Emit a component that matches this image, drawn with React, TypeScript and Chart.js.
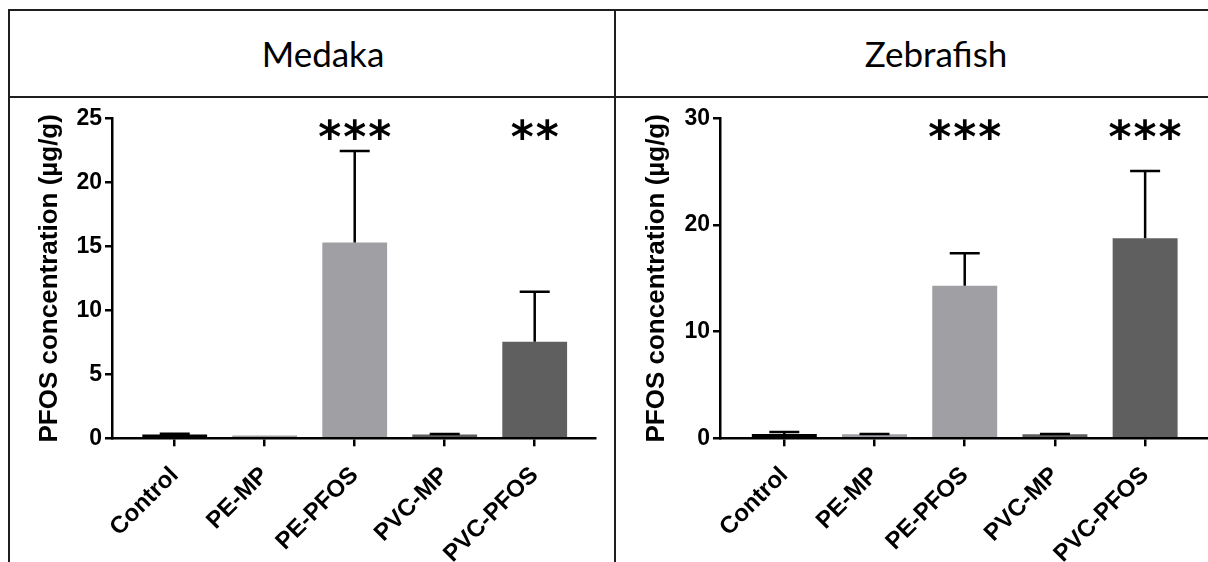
import React, { useEffect, useRef } from "react";
import { Chart, registerables } from "chart.js";

Chart.register(...registerables);

// Treatment groups shared by both species panels
const categories = ["Control", "PE-MP", "PE-PFOS", "PVC-MP", "PVC-PFOS"];
const barColors = ["#000000", "#a09fa4", "#a09fa4", "#5f5f5f", "#5f5f5f"];

// Medaka: mean PFOS concentration and upper error (µg/g)
const medakaMean = [0.3, 0.22, 15.3, 0.3, 7.55];
const medakaErr = [0.05, 0, 7.15, 0.04, 3.9];
const medakaStars = ["", "", "***", "", "**"];
const medakaTicks = [0, 5, 10, 15, 20, 25];

// Zebrafish: mean PFOS concentration and upper error (µg/g)
const zebraMean = [0.4, 0.38, 14.3, 0.38, 18.75];
const zebraErr = [0.2, 0.03, 3.05, 0.03, 6.3];
const zebraStars = ["", "", "***", "", "***"];
const zebraTicks = [0, 10, 20, 30];

const AXIS_FONT = "'Liberation Sans', Arial, Helvetica, sans-serif";
const CANVAS_H = 463;

type PanelProps = {
  left: number;
  width: number;
  axisLeft: number;
  padRight: number;
  xMin: number;
  xMax: number;
  means: number[];
  errs: number[];
  stars: string[];
  yMax: number;
  yTicks: number[];
  titlePad: number;
};

function Panel(p: PanelProps) {
  const ref = useRef<HTMLCanvasElement>(null);

  useEffect(() => {
    const canvas = ref.current;
    if (!canvas) return;

    // One-sided error bars and significance asterisks above the bars
    const errorBars = {
      id: "errorBars",
      afterDatasetsDraw(chart: any) {
        const { ctx } = chart;
        const x = chart.scales.x;
        const y = chart.scales.y;
        ctx.save();
        ctx.strokeStyle = "#000";
        ctx.lineWidth = 2.5;
        p.means.forEach((m, i) => {
          const e = p.errs[i];
          if (!e) return;
          const cx = x.getPixelForValue(i);
          const yTop = y.getPixelForValue(m);
          const yCap = y.getPixelForValue(m + e);
          ctx.beginPath();
          ctx.moveTo(cx, yTop);
          ctx.lineTo(cx, yCap);
          ctx.moveTo(cx - 15, yCap);
          ctx.lineTo(cx + 15, yCap);
          ctx.stroke();
        });
        ctx.fillStyle = "#000";
        ctx.font = "bold 44px 'DejaVu Sans'";
        ctx.textAlign = "center";
        ctx.textBaseline = "alphabetic";
        p.stars.forEach((s, i) => {
          if (!s) return;
          const cx = x.getPixelForValue(i);
          const n = s.length;
          for (let k = 0; k < n; k++) {
            ctx.fillText(s[k], cx + (k - (n - 1) / 2) * 25, chart.chartArea.top + 34);
          }
        });
        ctx.restore();
      },
    };

    const tickFont = { family: AXIS_FONT, size: 23, weight: "bold" as const };
    const axisGrid = {
      display: true,
      drawOnChartArea: false,
      drawTicks: true,
      color: "#000",
      lineWidth: 2.5,
      offset: false,
    };

    const chart = new Chart(canvas, {
      type: "bar",
      data: {
        datasets: [
          {
            data: p.means.map((m, i) => ({ x: i, y: m })),
            backgroundColor: barColors,
            borderWidth: 0,
            barPercentage: 0.72,
            categoryPercentage: 1,
          },
        ],
      },
      options: {
        animation: false,
        responsive: false,
        layout: { padding: { top: 19.3, right: p.padRight, left: 0, bottom: 0 } },
        plugins: { legend: { display: false }, tooltip: { enabled: false } },
        scales: {
          x: {
            type: "linear",
            min: p.xMin,
            max: p.xMax,
            offset: false,
            afterBuildTicks: (s: any) => {
              s.ticks = categories.map((_, i) => ({ value: i }));
            },
            afterFit: (s: any) => {
              s.height = 123.7;
            },
            grid: { ...axisGrid, tickLength: 8 },
            border: { display: true, color: "#000", width: 2.5 },
            ticks: {
              autoSkip: false,
              minRotation: 45,
              maxRotation: 45,
              padding: 15,
              color: "#000",
              font: { family: AXIS_FONT, size: 24, weight: "bold" },
              callback: (v: any) => categories[v as number] ?? "",
            },
          },
          y: {
            type: "linear",
            min: 0,
            max: p.yMax,
            afterBuildTicks: (s: any) => {
              s.ticks = p.yTicks.map((v) => ({ value: v }));
            },
            afterFit: (s: any) => {
              s.width = p.axisLeft;
            },
            grid: { ...axisGrid, tickLength: 7 },
            border: { display: true, color: "#000", width: 2.5 },
            ticks: { padding: 3, color: "#000", font: tickFont },
            title: {
              display: true,
              text: "PFOS concentration (µg/g)",
              color: "#000",
              font: { family: AXIS_FONT, size: 26, weight: "bold" },
              padding: { top: p.titlePad, bottom: 0 },
            },
          },
        },
      },
      plugins: [errorBars],
    } as any);

    return () => chart.destroy();
  }, []);

  return (
    <canvas
      ref={ref}
      width={p.width}
      height={CANVAS_H}
      style={{ position: "absolute", left: p.left, top: 99, width: p.width, height: CANVAS_H }}
    />
  );
}

const line = (left: number, top: number, width: number, height: number) => (
  <div style={{ position: "absolute", left, top, width, height, background: "#1e1e1e" }} />
);

const headerStyle: React.CSSProperties = {
  position: "absolute",
  top: 36,
  transform: "translateX(-50%)",
  fontFamily: "Lato, 'Open Sans', sans-serif",
  fontSize: 35,
  lineHeight: "34px",
  color: "#000",
  whiteSpace: "nowrap",
};

export default function App() {
  return (
    <div
      style={{
        position: "absolute",
        left: 0,
        top: 0,
        width: 1208,
        height: 562,
        background: "#fff",
        overflow: "hidden",
      }}
    >
      <Panel
        left={0}
        width={614}
        axisLeft={112}
        padRight={19}
        xMin={-0.697}
        xMax={4.67}
        means={medakaMean}
        errs={medakaErr}
        stars={medakaStars}
        yMax={25}
        yTicks={medakaTicks}
        titlePad={34}
      />
      <Panel
        left={617}
        width={591}
        axisLeft={103}
        padRight={0}
        xMin={-0.713}
        xMax={4.697}
        means={zebraMean}
        errs={zebraErr}
        stars={zebraStars}
        yMax={30}
        yTicks={zebraTicks}
        titlePad={24}
      />
      {line(8, 9, 1200, 2)}
      {line(8, 9, 2, 553)}
      {line(8, 96, 1200, 2)}
      {line(614, 9, 2, 553)}
      <div style={{ ...headerStyle, left: 323 }}>Medaka</div>
      <div style={{ ...headerStyle, left: 936 }}>Zebrafish</div>
    </div>
  );
}
